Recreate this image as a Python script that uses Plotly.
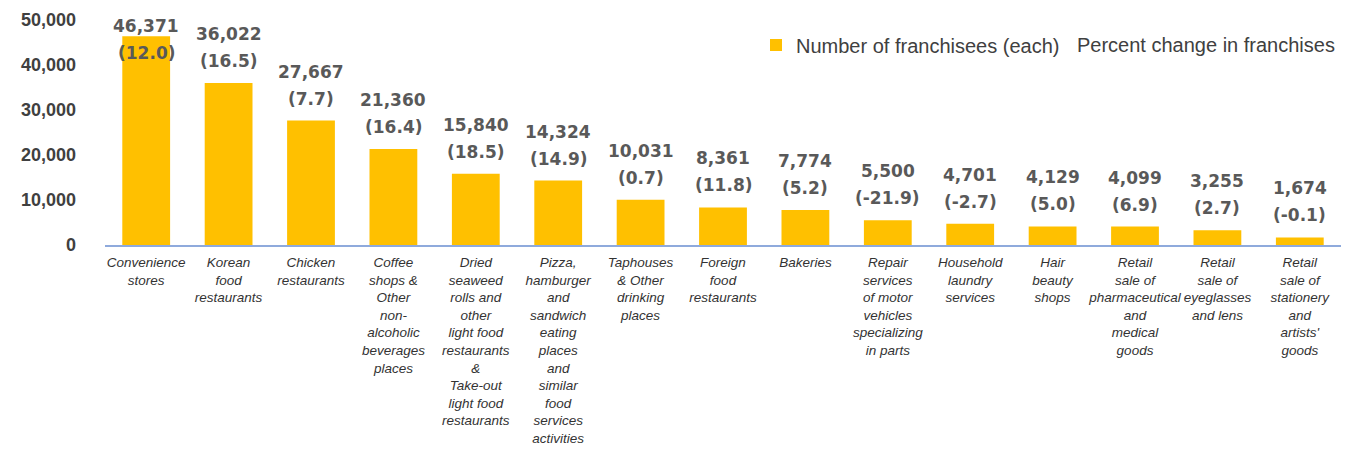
import plotly.graph_objects as go

categories = [
    "Convenience<br>stores",
    "Korean<br>food<br>restaurants",
    "Chicken<br>restaurants",
    "Coffee<br>shops &<br>Other<br>non-<br>alcoholic<br>beverages<br>places",
    "Dried<br>seaweed<br>rolls and<br>other<br>light food<br>restaurants<br>&<br>Take-out<br>light food<br>restaurants",
    "Pizza,<br>hamburger<br>and<br>sandwich<br>eating<br>places<br>and<br>similar<br>food<br>services<br>activities",
    "Taphouses<br>& Other<br>drinking<br>places",
    "Foreign<br>food<br>restaurants",
    "Bakeries",
    "Repair<br>services<br>of motor<br>vehicles<br>specializing<br>in parts",
    "Household<br>laundry<br>services",
    "Hair<br>beauty<br>shops",
    "Retail<br>sale of<br>pharmaceutical<br>and<br>medical<br>goods",
    "Retail<br>sale of<br>eyeglasses<br>and lens",
    "Retail<br>sale of<br>stationery<br>and<br>artists'<br>goods",
]
franchisees = [46371, 36022, 27667, 21360, 15840, 14324, 10031, 8361, 7774,
               5500, 4701, 4129, 4099, 3255, 1674]
pct_change = [12.0, 16.5, 7.7, 16.4, 18.5, 14.9, 0.7, 11.8, 5.2,
              -21.9, -2.7, 5.0, 6.9, 2.7, -0.1]
y_ticks = [0, 10000, 20000, 30000, 40000, 50000]
y_tick_text = ["0", "10,000", "20,000", "30,000", "40,000", "50,000"]
LABEL_CAP = 37700

fig = go.Figure()
fig.add_trace(go.Bar(
    x=categories, y=franchisees, name="Number of franchisees (each)",
    marker=dict(color="#FFC000", line=dict(width=0)),
    hoverinfo="skip",
))

lab_font = dict(family="DejaVu Sans", size=17, color="#595959")
for c, v, p in zip(categories, franchisees, pct_change):
    ly = min(v, LABEL_CAP)
    fig.add_annotation(x=c, y=ly, text="<b>({:.1f})</b>".format(p), showarrow=False,
                       yanchor="middle", yshift=22, font=lab_font)
    fig.add_annotation(x=c, y=ly, text="<b>{:,}</b>".format(v), showarrow=False,
                       yanchor="middle", yshift=49, font=lab_font)

# second legend entry (no symbol in the reference)
fig.add_annotation(xref="paper", yref="paper", x=0.9968, y=0.889,
                   xanchor="right", yanchor="middle", showarrow=False,
                   text="Percent change in franchises",
                   font=dict(family="Liberation Sans", size=20, color="#404040"))

fig.update_layout(
    width=1352, height=469,
    margin=dict(l=105, r=11, t=20, b=224, autoexpand=False),
    plot_bgcolor="white", paper_bgcolor="white",
    bargap=0.42,
    showlegend=True,
    legend=dict(orientation="h", x=0.5267, xanchor="left", y=0.889, yanchor="middle",
                font=dict(family="Liberation Sans", size=20, color="#404040"),
                bgcolor="rgba(0,0,0,0)", itemclick=False),
    xaxis=dict(
        showgrid=False, showline=True, linecolor="#8FAADC", linewidth=2,
        tickangle=0, ticks="", automargin=False, ticklabelstandoff=4,
        tickfont=dict(family="Liberation Sans", size=13.5, color="#333333", style="italic"),
        range=[-0.5, 14.5],
    ),
    yaxis=dict(
        range=[0, 50000], showgrid=False, zeroline=False, showline=False,
        automargin=False,
        tickvals=y_ticks, ticktext=["<b>%s</b>" % t for t in y_tick_text],
        tickfont=dict(family="Liberation Sans", size=18, color="#404040"),
        ticklabelstandoff=28,
    ),
)

fig.write_html("out.html", post_script="document.body.style.margin='0';",
               config={"displayModeBar": False})
